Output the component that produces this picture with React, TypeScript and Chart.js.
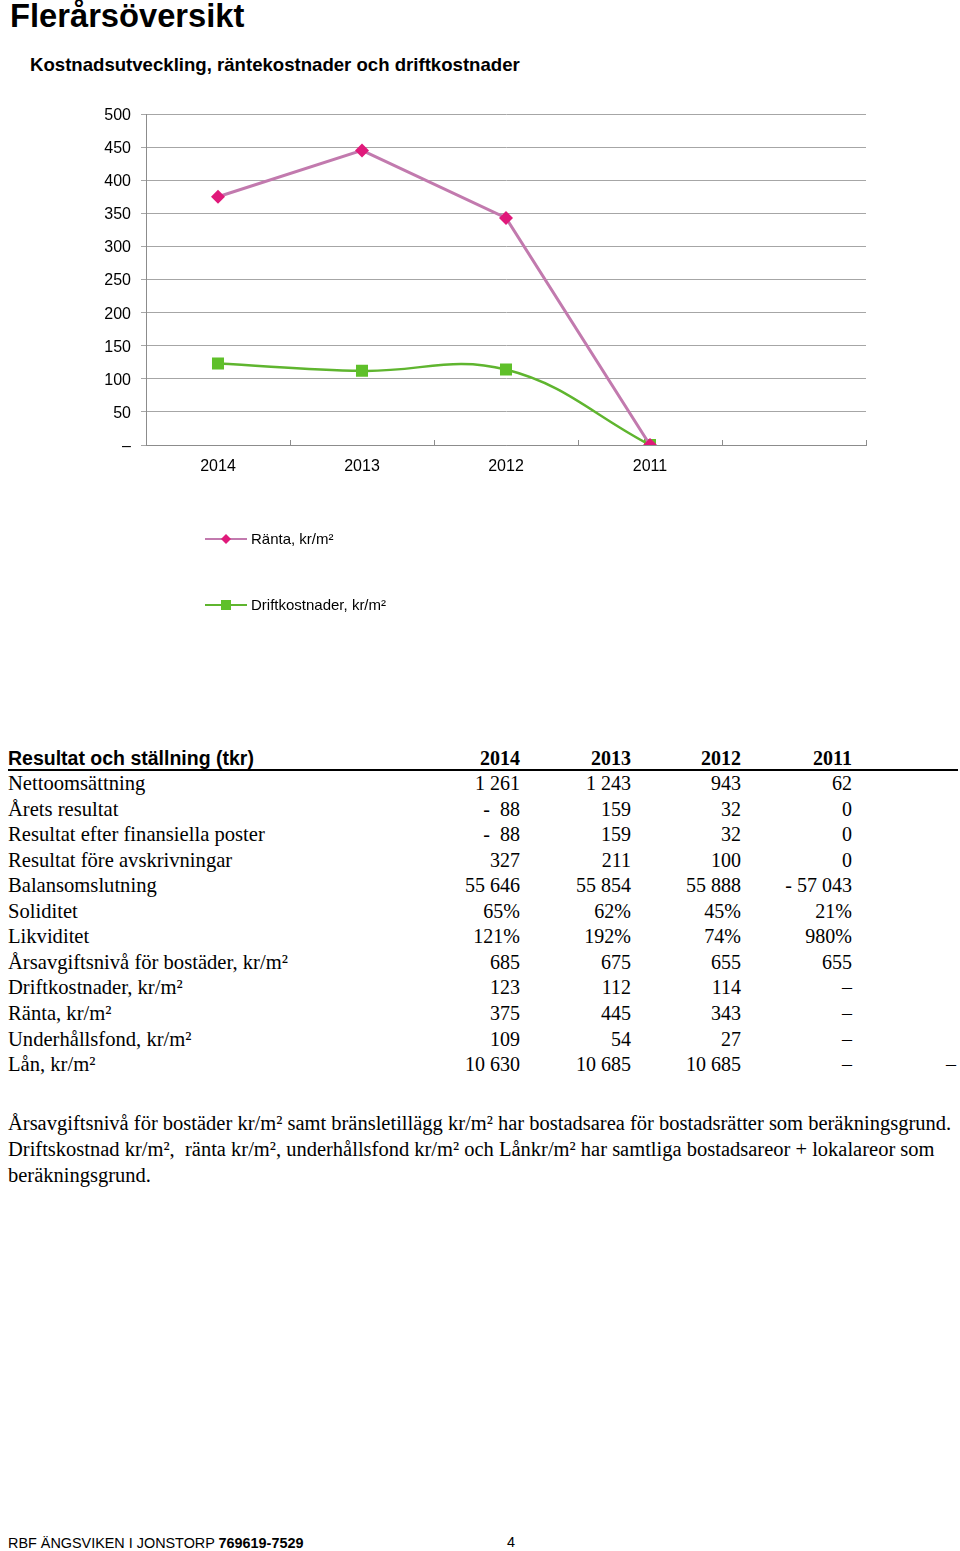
import React, { useEffect, useRef } from "react";
import { Chart, registerables } from "chart.js";

Chart.register(...registerables);

// ---- Chart data ----
const years = ["2014", "2013", "2012", "2011", ""];
const rantaValues = [375, 445, 343, 0, null];
const driftValues = [123, 112, 114, 0, null];
const yMin = 0;
const yMax = 500;
const yStep = 50;
const rantaLabel = "Ränta, kr/m²";
const driftLabel = "Driftkostnader, kr/m²";

// ---- Table data ----
const tableYears = ["2014", "2013", "2012", "2011"];
const rowLabels = [
  "Nettoomsättning",
  "Årets resultat",
  "Resultat efter finansiella poster",
  "Resultat före avskrivningar",
  "Balansomslutning",
  "Soliditet",
  "Likviditet",
  "Årsavgiftsnivå för bostäder, kr/m²",
  "Driftkostnader, kr/m²",
  "Ränta, kr/m²",
  "Underhållsfond, kr/m²",
  "Lån, kr/m²",
];
const col2014 = ["1 261", "-  88", "-  88", "327", "55 646", "65%", "121%", "685", "123", "375", "109", "10 630"];
const col2013 = ["1 243", "159", "159", "211", "55 854", "62%", "192%", "675", "112", "445", "54", "10 685"];
const col2012 = ["943", "32", "32", "100", "55 888", "45%", "74%", "655", "114", "343", "27", "10 685"];
const col2011 = ["62", "0", "0", "0", "- 57 043", "21%", "980%", "655", "–", "–", "–", "–"];
const colExtra = ["", "", "", "", "", "", "", "", "", "", "", "–"];

const footnoteLines = [
  "Årsavgiftsnivå för bostäder kr/m² samt bränsletillägg kr/m² har bostadsarea för bostadsrätter som beräkningsgrund.",
  "Driftskostnad kr/m²,  ränta kr/m², underhållsfond kr/m² och Lånkr/m² har samtliga bostadsareor + lokalareor som",
  "beräkningsgrund.",
];

const columnRights = [520, 631, 741, 852, 956];

const xTickMarks = {
  id: "xTickMarks",
  afterDraw(chart: any) {
    const xs = chart.scales.x;
    const ctx = chart.ctx;
    const bottom = chart.chartArea.bottom;
    ctx.save();
    ctx.strokeStyle = "#8c8c8c";
    ctx.lineWidth = 1;
    for (let i = 0; i <= xs.getLabels().length; i++) {
      const x = Math.round(xs.getPixelForValue(i - 0.5)) + 0.5;
      ctx.beginPath();
      ctx.moveTo(x, bottom);
      ctx.lineTo(x, bottom - 5);
      ctx.stroke();
    }
    ctx.restore();
  },
};

const customLegend = {
  id: "customLegend",
  afterDraw(chart: any) {
    const ctx = chart.ctx;
    const rows = [449, 515];
    chart.data.datasets.forEach((ds: any, i: number) => {
      const y = rows[i];
      ctx.save();
      ctx.strokeStyle = ds.borderColor;
      ctx.lineWidth = 2;
      ctx.beginPath();
      ctx.moveTo(205, y);
      ctx.lineTo(247, y);
      ctx.stroke();
      ctx.fillStyle = ds.pointBackgroundColor;
      ctx.beginPath();
      if (ds.pointStyle === "rectRot") {
        ctx.moveTo(226, y - 5);
        ctx.lineTo(231, y);
        ctx.lineTo(226, y + 5);
        ctx.lineTo(221, y);
        ctx.closePath();
      } else {
        ctx.rect(221, y - 5, 10, 10);
      }
      ctx.fill();
      ctx.fillStyle = "#000";
      ctx.font = "15px Arial, 'Liberation Sans', sans-serif";
      ctx.textBaseline = "middle";
      ctx.textAlign = "left";
      ctx.fillText(ds.label, 251, y + 1);
      ctx.restore();
    });
  },
};

function LineChart() {
  const ref = useRef<HTMLCanvasElement | null>(null);
  useEffect(() => {
    if (!ref.current) return;
    const chart = new Chart(ref.current, {
      type: "line",
      data: {
        labels: years,
        datasets: [
          {
            label: rantaLabel,
            data: rantaValues,
            borderColor: "#c27aae",
            borderWidth: 3,
            pointStyle: "rectRot",
            pointRadius: 7,
            pointBackgroundColor: "#e0197a",
            pointBorderColor: "#e0197a",
            pointBorderWidth: 0,
            tension: 0,
          },
          {
            label: driftLabel,
            data: driftValues,
            borderColor: "#5fb52f",
            borderWidth: 2.5,
            pointStyle: "rect",
            pointRadius: 8.5,
            pointBackgroundColor: "#5fc02a",
            pointBorderColor: "#5fc02a",
            pointBorderWidth: 0,
            tension: 0.4,
          },
        ],
      },
      options: {
        animation: false,
        responsive: false,
        maintainAspectRatio: false,
        layout: { padding: { left: 0, right: 94, top: 24, bottom: 0 } },
        plugins: { legend: { display: false }, tooltip: { enabled: false }, title: { display: false } },
        scales: {
          x: {
            type: "category",
            offset: true,
            grid: { display: false },
            border: { display: true, color: "#8c8c8c", width: 1 },
            ticks: {
              color: "#000",
              font: { family: "Arial, 'Liberation Sans', sans-serif", size: 16 },
              padding: 4,
              maxRotation: 0,
              autoSkip: false,
            },
            afterFit: (s: any) => {
              s.height = 205;
            },
          },
          y: {
            min: yMin,
            max: yMax,
            ticks: {
              stepSize: yStep,
              color: "#000",
              font: { family: "Arial, 'Liberation Sans', sans-serif", size: 16 },
              padding: 10,
              labelOffset: 1.5,
              callback: (v: any) => (v === 0 ? "–" : String(v)),
            },
            grid: { color: "#a6a6a6", lineWidth: 1, tickLength: 5, drawTicks: true },
            border: { display: true, color: "#8c8c8c", width: 1 },
            afterFit: (s: any) => {
              s.width = 146;
            },
          },
        },
      },
      plugins: [xTickMarks, customLegend],
    });
    return () => chart.destroy();
  }, []);
  return (
    <canvas
      ref={ref}
      width={960}
      height={560}
      style={{ position: "absolute", left: 0, top: 90, width: 960, height: 560 }}
    />
  );
}

const serif = "'Liberation Serif', 'Times New Roman', serif";
const sans = "Arial, 'Liberation Sans', sans-serif";

export default function App() {
  const rowH = 25.55;
  const cols = [col2014, col2013, col2012, col2011, colExtra];
  return (
    <div style={{ position: "absolute", left: 0, top: 0, width: 960, height: 1551, background: "#fff", overflow: "hidden" }}>
      <div style={{ position: "absolute", left: 10, top: -3, fontFamily: sans, fontWeight: "bold", fontSize: 32.7, lineHeight: "38px", whiteSpace: "nowrap" }}>
        Flerårsöversikt
      </div>
      <div style={{ position: "absolute", left: 30, top: 54, fontFamily: sans, fontWeight: "bold", fontSize: 18.6, lineHeight: "22px", whiteSpace: "nowrap" }}>
        Kostnadsutveckling, räntekostnader och driftkostnader
      </div>
      <LineChart />

      {/* Table header */}
      <div style={{ position: "absolute", left: 8, top: 746, fontFamily: sans, fontWeight: "bold", fontSize: 19.5, lineHeight: "24px", whiteSpace: "nowrap" }}>
        Resultat och ställning (tkr)
      </div>
      {tableYears.map((y, i) => (
        <div
          key={y}
          style={{ position: "absolute", left: columnRights[i] - 100, width: 100, textAlign: "right", top: 746, fontFamily: serif, fontWeight: "bold", fontSize: 20, lineHeight: "24px" }}
        >
          {y}
        </div>
      ))}
      <div style={{ position: "absolute", left: 8, top: 769, width: 950, height: 2, background: "#000" }} />

      {rowLabels.map((lab, r) => (
        <React.Fragment key={lab}>
          <div style={{ position: "absolute", left: 8, top: 771 + r * rowH, fontFamily: serif, fontSize: 20.6, lineHeight: rowH + "px", whiteSpace: "nowrap" }}>
            {lab}
          </div>
          {cols.map((c, ci) => (
            <div
              key={ci}
              style={{
                position: "absolute",
                left: columnRights[ci] - 100,
                width: 100,
                textAlign: "right",
                top: 771 + r * rowH,
                fontFamily: serif,
                fontSize: 20,
                lineHeight: rowH + "px",
                whiteSpace: "pre",
              }}
            >
              {c[r]}
            </div>
          ))}
        </React.Fragment>
      ))}

      {footnoteLines.map((t, i) => (
        <div key={i} style={{ position: "absolute", left: 8, top: 1110 + i * 26, fontFamily: serif, fontSize: 20.5, lineHeight: "26px", whiteSpace: "pre" }}>
          {t}
        </div>
      ))}

      <div style={{ position: "absolute", left: 8, top: 1534, fontFamily: sans, fontSize: 14.4, lineHeight: "18px", whiteSpace: "nowrap" }}>
        RBF ÄNGSVIKEN I JONSTORP <b>769619-7529</b>
      </div>
      <div style={{ position: "absolute", left: 507, top: 1533, fontFamily: sans, fontSize: 14.4, lineHeight: "18px" }}>4</div>
    </div>
  );
}
